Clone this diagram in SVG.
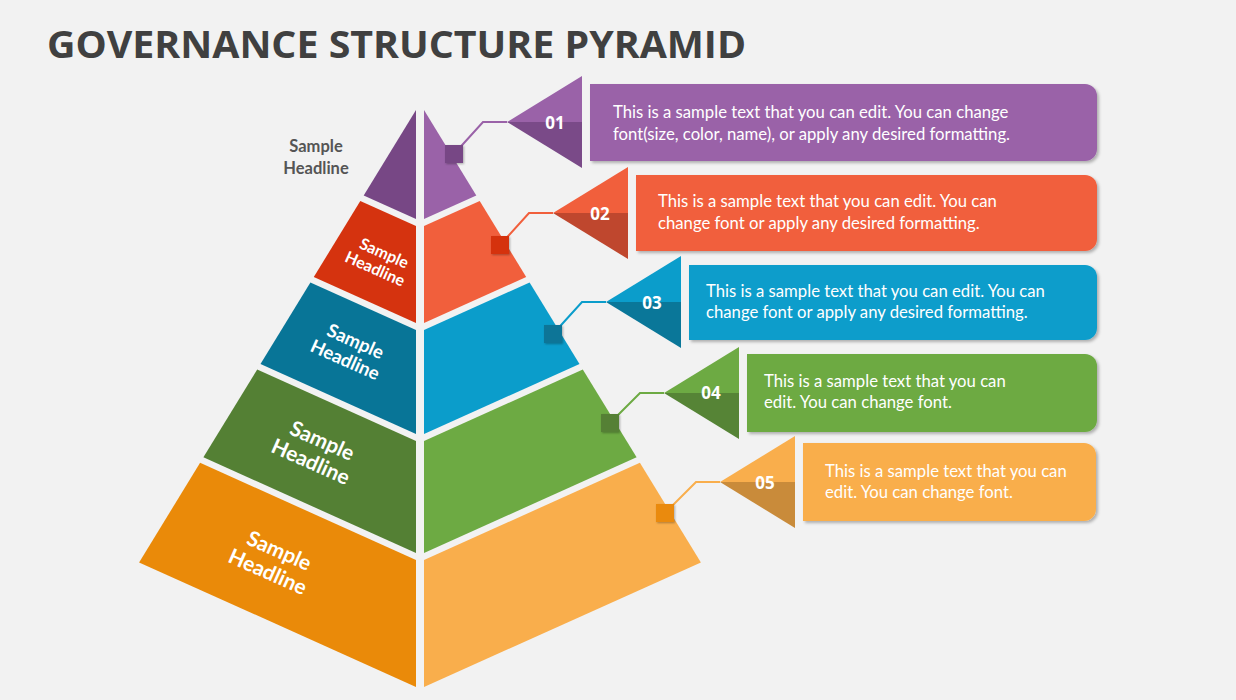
<svg xmlns="http://www.w3.org/2000/svg" width="1236" height="700" viewBox="0 0 1236 700">
<defs>
<filter id="sh" x="-10%" y="-20%" width="130%" height="150%">
<feDropShadow dx="2" dy="2" stdDeviation="1.8" flood-color="#000" flood-opacity="0.28"/>
</filter>
<filter id="shs" x="-50%" y="-50%" width="200%" height="200%">
<feDropShadow dx="1" dy="1" stdDeviation="1.2" flood-color="#000" flood-opacity="0.3"/>
</filter>
<style>
.title{font-family:"Open Sans","Liberation Sans",sans-serif;font-weight:700;font-size:38px;fill:#404040}
.body{font-family:Lato,"Liberation Sans",sans-serif;font-size:16.7px;fill:#fff}
.num{font-family:"Open Sans","Liberation Sans",sans-serif;font-weight:700;font-size:17px;fill:#fff;text-anchor:middle}
.lbl{font-family:Lato,"Liberation Sans",sans-serif;font-weight:700;fill:#fff;text-anchor:middle}
.lblg{font-family:Lato,"Liberation Sans",sans-serif;font-weight:700;font-size:16.5px;fill:#555;text-anchor:middle}
.conn{fill:none;stroke-width:2}
</style>
</defs>
<rect width="1236" height="700" fill="#F2F2F2"/>
<text class="title" x="47" y="58" textLength="699" lengthAdjust="spacingAndGlyphs">GOVERNANCE STRUCTURE PYRAMID</text>

<g id="pyramid">
<g id="level1">
<polygon points="416,110 363.7,195.5 416,219" fill="#774785"/>
<polygon points="424,110 476.3,195.5 424,219" fill="#9A62A8"/>
<text class="lblg" x="316" y="152">Sample</text>
<text class="lblg" x="316" y="174">Headline</text>
</g>
<g id="level2">
<polygon points="360.3,201 416,226 416,323 313.8,277" fill="#D5330F"/>
<polygon points="424,226 479.7,201 526.2,277 424,323" fill="#F15F3C"/>
<g transform="translate(378,262) rotate(24)">
<text class="lbl" style="font-size:16px" x="2" y="-5">Sample</text>
<text class="lbl" style="font-size:16px" x="0" y="13">Headline</text>
</g>
</g>
<g id="level3">
<polygon points="310.4,282.5 416,330 416,434 260.5,364" fill="#087597"/>
<polygon points="424,330 529.6,282.5 579.5,364 424,434" fill="#0B9DCB"/>
<g transform="translate(349,351) rotate(24)">
<text class="lbl" style="font-size:18.5px" x="2" y="-5">Sample</text>
<text class="lbl" style="font-size:18.5px" x="0" y="16">Headline</text>
</g>
</g>
<g id="level4">
<polygon points="257.2,369.5 416,441 416,553 203.4,457.3" fill="#548034"/>
<polygon points="424,441 582.8,369.5 636.6,457.3 424,553" fill="#6DAA43"/>
<g transform="translate(315,452) rotate(24)">
<text class="lbl" style="font-size:21px" x="2" y="-6">Sample</text>
<text class="lbl" style="font-size:21px" x="0" y="18">Headline</text>
</g>
</g>
<g id="level5">
<polygon points="200.1,462.8 416,560 416,687 139.1,562.4" fill="#EA8A09"/>
<polygon points="424,560 639.9,462.8 700.9,562.4 424,687" fill="#F9AE4C"/>
<g transform="translate(272,562) rotate(24)">
<text class="lbl" style="font-size:21px" x="2" y="-6">Sample</text>
<text class="lbl" style="font-size:21px" x="0" y="18">Headline</text>
</g>
</g>
</g>

<g id="connectors">
<polyline class="conn" points="507,122 483,122 454,154" stroke="#9A62A8"/>
<polyline class="conn" points="553,213 529,213 500,245" stroke="#F15F3C"/>
<polyline class="conn" points="606,302 582,302 553,334" stroke="#0B9DCB"/>
<polyline class="conn" points="664,393 640,393 610,423" stroke="#6DAA43"/>
<polyline class="conn" points="720,482 696,482 665,513" stroke="#F9AE4C"/>
</g>

<g id="callout1">
<rect x="445" y="145" width="18" height="18" fill="#774785" filter="url(#shs)"/>
<polygon points="507,122 582,76 582,122" fill="#9A62A8"/>
<polygon points="507,122 582,122 582,168" fill="#7A4A88"/>
<text class="num" x="555" y="129">01</text>
<path d="M590,84 H1085 A12,12 0 0 1 1097,96 V149 A12,12 0 0 1 1085,161 H590 Z" fill="#9A62A8" filter="url(#sh)"/>
<text class="body" x="613" y="118">This is a sample text that you can edit. You can change</text>
<text class="body" x="613" y="140">font(size, color, name), or apply any desired formatting.</text>
</g>
<g id="callout2">
<rect x="491" y="236" width="18" height="18" fill="#D5330F" filter="url(#shs)"/>
<polygon points="553,213 628,167 628,213" fill="#F15F3C"/>
<polygon points="553,213 628,213 628,259" fill="#BF472E"/>
<text class="num" x="600" y="220">02</text>
<path d="M636,175 H1085 A12,12 0 0 1 1097,187 V239 A12,12 0 0 1 1085,251 H636 Z" fill="#F15F3C" filter="url(#sh)"/>
<text class="body" x="658" y="207">This is a sample text that you can edit. You can</text>
<text class="body" x="658" y="229">change font or apply any desired formatting.</text>
</g>
<g id="callout3">
<rect x="544" y="325" width="18" height="18" fill="#087597" filter="url(#shs)"/>
<polygon points="606,302 681,256 681,302" fill="#0B9DCB"/>
<polygon points="606,302 681,302 681,348" fill="#0A7799"/>
<text class="num" x="652" y="309">03</text>
<path d="M689,265 H1085 A12,12 0 0 1 1097,277 V328 A12,12 0 0 1 1085,340 H689 Z" fill="#0B9DCB" filter="url(#sh)"/>
<text class="body" x="706" y="297">This is a sample text that you can edit. You can</text>
<text class="body" x="706" y="318">change font or apply any desired formatting.</text>
</g>
<g id="callout4">
<rect x="601" y="414" width="18" height="18" fill="#548034" filter="url(#shs)"/>
<polygon points="664,393 739,347 739,393" fill="#6DAA43"/>
<polygon points="664,393 739,393 739,439" fill="#568436"/>
<text class="num" x="711" y="399">04</text>
<path d="M747,354 H1085 A12,12 0 0 1 1097,366 V420 A12,12 0 0 1 1085,432 H747 Z" fill="#6DAA43" filter="url(#sh)"/>
<text class="body" x="764" y="387">This is a sample text that you can</text>
<text class="body" x="764" y="408">edit. You can change font.</text>
</g>
<g id="callout5">
<rect x="656" y="504" width="18" height="18" fill="#EA8A09" filter="url(#shs)"/>
<polygon points="720,482 795,436 795,482" fill="#F9AE4C"/>
<polygon points="720,482 795,482 795,528" fill="#C98B3A"/>
<text class="num" x="765" y="489">05</text>
<path d="M803,443 H1084 A12,12 0 0 1 1096,455 V509 A12,12 0 0 1 1084,521 H803 Z" fill="#F9AE4C" filter="url(#sh)"/>
<text class="body" x="825" y="477">This is a sample text that you can</text>
<text class="body" x="825" y="498">edit. You can change font.</text>
</g>
</svg>
